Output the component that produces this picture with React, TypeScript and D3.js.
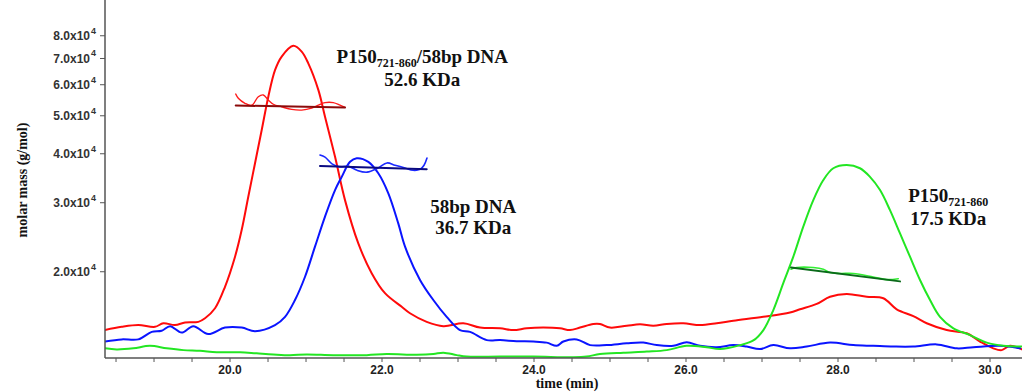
import React from "react";
import * as d3 from "d3";

// ---- Data ----
// Detector traces: [time (min), relative signal (%)]
const redTrace: [number, number][] = [
  [18.355, 7.8], [18.575, 8.7], [18.793, 9.2], [19.013, 8.7], [19.122, 9.7], [19.276, 9.2],
  [19.408, 9.9], [19.583, 10.1], [19.671, 11.1], [19.803, 13.9], [19.934, 19.9], [20.066, 28.3],
  [20.154, 35.8], [20.241, 45.1], [20.329, 54.4], [20.417, 63.7], [20.504, 73.0], [20.592, 80.4],
  [20.68, 84.2], [20.833, 87.2], [20.943, 85.6], [21.03, 82.3], [21.162, 74.9], [21.25, 67.4],
  [21.382, 56.2], [21.513, 44.1], [21.688, 32.0], [21.864, 23.7], [22.039, 18.1], [22.259, 14.3],
  [22.368, 12.5], [22.588, 10.1], [22.807, 8.9], [23.07, 9.7], [23.289, 8.5], [23.553, 8.3],
  [23.728, 7.8], [23.904, 8.3], [24.122, 8.5], [24.342, 8.3], [24.474, 7.8], [24.605, 8.5],
  [24.78, 9.5], [24.868, 9.5], [25.0, 8.5], [25.22, 9.0], [25.395, 9.4], [25.57, 9.0],
  [25.746, 9.5], [25.964, 9.7], [26.184, 9.2], [26.404, 9.7], [26.622, 10.4], [27.017, 11.5],
  [27.368, 12.7], [27.5, 13.6], [27.72, 15.1], [27.895, 17.1], [28.114, 17.9], [28.378, 17.1],
  [28.596, 16.7], [28.772, 13.6], [28.991, 11.7], [29.167, 9.7], [29.43, 7.8], [29.693, 6.9],
  [29.868, 4.6], [30.043, 2.7], [30.154, 2.2], [30.263, 3.4], [30.421, 2.4],
];

const blueTrace: [number, number][] = [
  [18.355, 4.6], [18.575, 5.2], [18.793, 5.2], [18.97, 7.3], [19.101, 7.6], [19.211, 8.9],
  [19.364, 7.1], [19.517, 8.9], [19.714, 6.7], [19.934, 8.5], [20.154, 8.5], [20.329, 7.5],
  [20.592, 9.2], [20.724, 11.5], [20.855, 16.2], [20.987, 22.7], [21.118, 31.1], [21.25, 39.5],
  [21.382, 46.9], [21.47, 50.6], [21.579, 54.8], [21.667, 55.8], [21.82, 54.8], [21.951, 51.6],
  [22.083, 46.0], [22.214, 37.6], [22.303, 31.1], [22.5, 21.8], [22.675, 16.2], [22.851, 11.5],
  [23.026, 7.8], [23.158, 7.3], [23.378, 5.0], [23.553, 5.0], [23.772, 4.7], [23.991, 4.6],
  [24.167, 4.3], [24.299, 3.4], [24.386, 4.6], [24.562, 5.2], [24.737, 3.6], [24.957, 3.6],
  [25.22, 4.1], [25.438, 4.3], [25.614, 3.6], [25.833, 3.4], [26.009, 4.4], [26.184, 3.4],
  [26.404, 3.0], [26.622, 3.6], [26.799, 3.2], [26.974, 2.5], [27.149, 3.6], [27.368, 2.7],
  [27.588, 3.2], [27.895, 4.3], [28.201, 3.6], [28.464, 3.4], [28.728, 3.2], [28.991, 3.2],
  [29.299, 3.8], [29.562, 2.7], [29.78, 3.0], [30.132, 3.4], [30.395, 2.7],
];

const greenTrace: [number, number][] = [
  [18.355, 2.7], [18.509, 2.4], [18.728, 2.7], [18.947, 3.4], [19.167, 2.7], [19.386, 2.2],
  [19.605, 2.0], [19.825, 1.6], [20.132, 1.6], [20.351, 1.3], [20.57, 1.0], [20.789, 0.8],
  [21.009, 1.0], [21.359, 0.8], [21.799, 0.8], [22.062, 1.1], [22.457, 0.9], [22.675, 1.1],
  [22.807, 1.5], [22.983, 0.8], [23.114, 0.4], [23.553, 0.4], [23.991, 0.4], [24.517, 0.2],
  [24.693, 0.4], [24.868, 1.1], [25.175, 1.5], [25.483, 1.8], [25.746, 2.2], [26.009, 3.4],
  [26.272, 3.0], [26.447, 2.5], [26.711, 3.6], [26.886, 4.9], [27.018, 7.8], [27.149, 13.4],
  [27.28, 20.9], [27.412, 28.3], [27.543, 36.7], [27.675, 44.1], [27.807, 49.7], [27.938, 53.0],
  [28.114, 53.9], [28.289, 53.0], [28.421, 50.6], [28.553, 46.9], [28.684, 41.3], [28.816, 34.8],
  [28.947, 28.3], [29.079, 21.8], [29.211, 16.2], [29.342, 11.5], [29.518, 8.3], [29.737, 6.4],
  [29.957, 4.3], [30.175, 3.4], [30.421, 3.2],
];

// Molar mass across peaks: [time (min), g/mol]
const redMass: [number, number][] = [
  [20.075, 56800], [20.109, 55400], [20.197, 53800], [20.286, 53200], [20.372, 55900],
  [20.438, 56500], [20.504, 54800], [20.57, 53500], [20.68, 52700], [20.812, 51900],
  [20.943, 51700], [21.075, 52300], [21.162, 53200], [21.25, 54000], [21.359, 54000],
  [21.447, 53200], [21.513, 52500],
];
const blueMass: [number, number][] = [
  [21.184, 39700], [21.25, 39200], [21.342, 37700], [21.447, 37000], [21.553, 37200],
  [21.671, 36300], [21.803, 35900], [21.947, 36800], [22.066, 37900], [22.171, 37400],
  [22.303, 36800], [22.408, 36300], [22.5, 36500], [22.553, 37400], [22.592, 39000],
];
const greenMass: [number, number][] = [
  [27.382, 20300], [27.457, 20500], [27.675, 20500], [27.807, 20300], [27.895, 19900],
  [28.026, 19800], [28.201, 19800], [28.464, 19400], [28.641, 19100], [28.793, 19200],
];
const redFit: [number, number][] = [[20.075, 53100], [21.513, 52500]];
const blueFit: [number, number][] = [[21.184, 37200], [22.588, 36500]];
const greenFit: [number, number][] = [[27.382, 20500], [28.816, 18900]];

const xMajorTicks = [20, 22, 24, 26, 28, 30];
const xMinorTicks = [18.5, 19, 19.5, 20, 20.5, 21, 21.5, 22, 22.5, 23, 23.5, 24, 24.5, 25, 25.5, 26, 26.5, 27, 27.5, 28, 28.5, 29, 29.5, 30];
const yTicks = [20000, 30000, 40000, 50000, 60000, 70000, 80000];
const yTickMantissa = ["2.0", "3.0", "4.0", "5.0", "6.0", "7.0", "8.0"];

// Annotations: [time, molar mass anchor, main, subscript, rest, second line]
const annotations = [
  { t: 22.53, m: 0, main: "P150", sub: "721-860", rest: "/58bp DNA", line2: "52.6 KDa", y1: 63, y2: 86 },
  { t: 23.2, m: 0, main: "58bp DNA", sub: "", rest: "", line2: "36.7 KDa", y1: 213, y2: 234 },
  { t: 29.45, m: 0, main: "P150", sub: "721-860", rest: "", line2: "17.5 KDa", y1: 202, y2: 225 },
];

const W = 1022;
const H = 392;
const left = 105;
const right = 1022;
const top = 0;
const bottom = 358;

export default function App() {
  const x = d3.scaleLinear().domain([18.355, 30.421]).range([left, right]);
  const yMass = d3.scaleLog().domain([12050, 98700]).range([bottom, top]);
  const ySig = d3.scaleLinear().domain([0, 100]).range([bottom, top]);

  const sigLine = d3
    .line<[number, number]>()
    .x((d) => x(d[0]))
    .y((d) => ySig(d[1]))
    .curve(d3.curveCatmullRom.alpha(0.5));
  const massLine = d3
    .line<[number, number]>()
    .x((d) => x(d[0]))
    .y((d) => yMass(d[1]))
    .curve(d3.curveCatmullRom.alpha(0.5));
  const fitLine = d3
    .line<[number, number]>()
    .x((d) => x(d[0]))
    .y((d) => yMass(d[1]));

  const serif = "'Liberation Serif', 'Times New Roman', serif";
  const sans = "'Liberation Sans', Arial, sans-serif";
  const axisColor = "#555";

  return (
    <svg
      width={W}
      height={H}
      style={{ position: "absolute", left: 0, top: 0, background: "#fff" }}
    >
      <rect x={0} y={0} width={W} height={H} fill="#fff" />
      <defs>
        <clipPath id="plot">
          <rect x={left} y={top} width={right - left} height={bottom - top} />
        </clipPath>
      </defs>

      {/* traces */}
      <g clipPath="url(#plot)" fill="none" strokeLinejoin="round" strokeLinecap="round">
        <path d={sigLine(redTrace) || ""} stroke="#ff0a0a" strokeWidth={2} />
        <path d={sigLine(blueTrace) || ""} stroke="#0a14ff" strokeWidth={2} />
        <path d={sigLine(greenTrace) || ""} stroke="#22e622" strokeWidth={2} />

        <path d={massLine(redMass) || ""} stroke="#ff1a1a" strokeWidth={1.4} />
        <path d={fitLine(redFit) || ""} stroke="#8b0a0a" strokeWidth={2} />
        <path d={massLine(blueMass) || ""} stroke="#1a28ff" strokeWidth={1.6} />
        <path d={fitLine(blueFit) || ""} stroke="#0a0a80" strokeWidth={2} />
        <path d={massLine(greenMass) || ""} stroke="#33ee33" strokeWidth={1.6} />
        <path d={fitLine(greenFit) || ""} stroke="#0a6a1a" strokeWidth={2} />
      </g>

      {/* axes */}
      <line x1={left} x2={left} y1={top} y2={bottom} stroke={axisColor} strokeWidth={1.5} />
      <line x1={left} x2={right} y1={bottom} y2={bottom} stroke={axisColor} strokeWidth={1.5} />

      {xMinorTicks.map((t) => (
        <line key={"m" + t} x1={x(t)} x2={x(t)} y1={bottom} y2={bottom + 4} stroke={axisColor} strokeWidth={1} />
      ))}
      {xMajorTicks.map((t) => (
        <text
          key={"x" + t}
          x={x(t)}
          y={bottom + 16}
          textAnchor="middle"
          fontFamily={sans}
          fontWeight="bold"
          fontSize={12}
          fill="#222"
        >
          {t.toFixed(1)}
        </text>
      ))}
      <text x={567} y={388} textAnchor="middle" fontFamily={serif} fontWeight="bold" fontSize={14} fill="#111">
        time (min)
      </text>

      {yTicks.map((v, i) => (
        <g key={"y" + v}>
          <line x1={left - 5} x2={left} y1={yMass(v)} y2={yMass(v)} stroke={axisColor} strokeWidth={1} />
          <text
            x={left - 15}
            y={yMass(v) + 4.5}
            textAnchor="end"
            fontFamily={sans}
            fontWeight="bold"
            fontSize={12}
            fill="#333"
          >
            {yTickMantissa[i]}x10
          </text>
          <text
            x={left - 14}
            y={yMass(v) - 2}
            textAnchor="start"
            fontFamily={sans}
            fontWeight="bold"
            fontSize={9}
            fill="#333"
          >
            4
          </text>
        </g>
      ))}
      <text
        transform={`translate(27, 180) rotate(-90)`}
        textAnchor="middle"
        fontFamily={serif}
        fontWeight="bold"
        fontSize={14}
        fill="#111"
      >
        molar mass (g/mol)
      </text>

      {/* annotations */}
      {annotations.map((a, i) => (
        <g key={"a" + i} fontFamily={serif} fontWeight="bold" fill="#111">
          <text x={x(a.t)} y={a.y1} textAnchor="middle" fontSize={19}>
            {a.main}
            {a.sub ? (
              <tspan fontSize={12} dy={4}>
                {a.sub}
              </tspan>
            ) : null}
            {a.rest ? (
              <tspan dy={-4}>{a.rest}</tspan>
            ) : null}
          </text>
          <text x={x(a.t)} y={a.y2} textAnchor="middle" fontSize={19}>
            {a.line2}
          </text>
        </g>
      ))}
    </svg>
  );
}
